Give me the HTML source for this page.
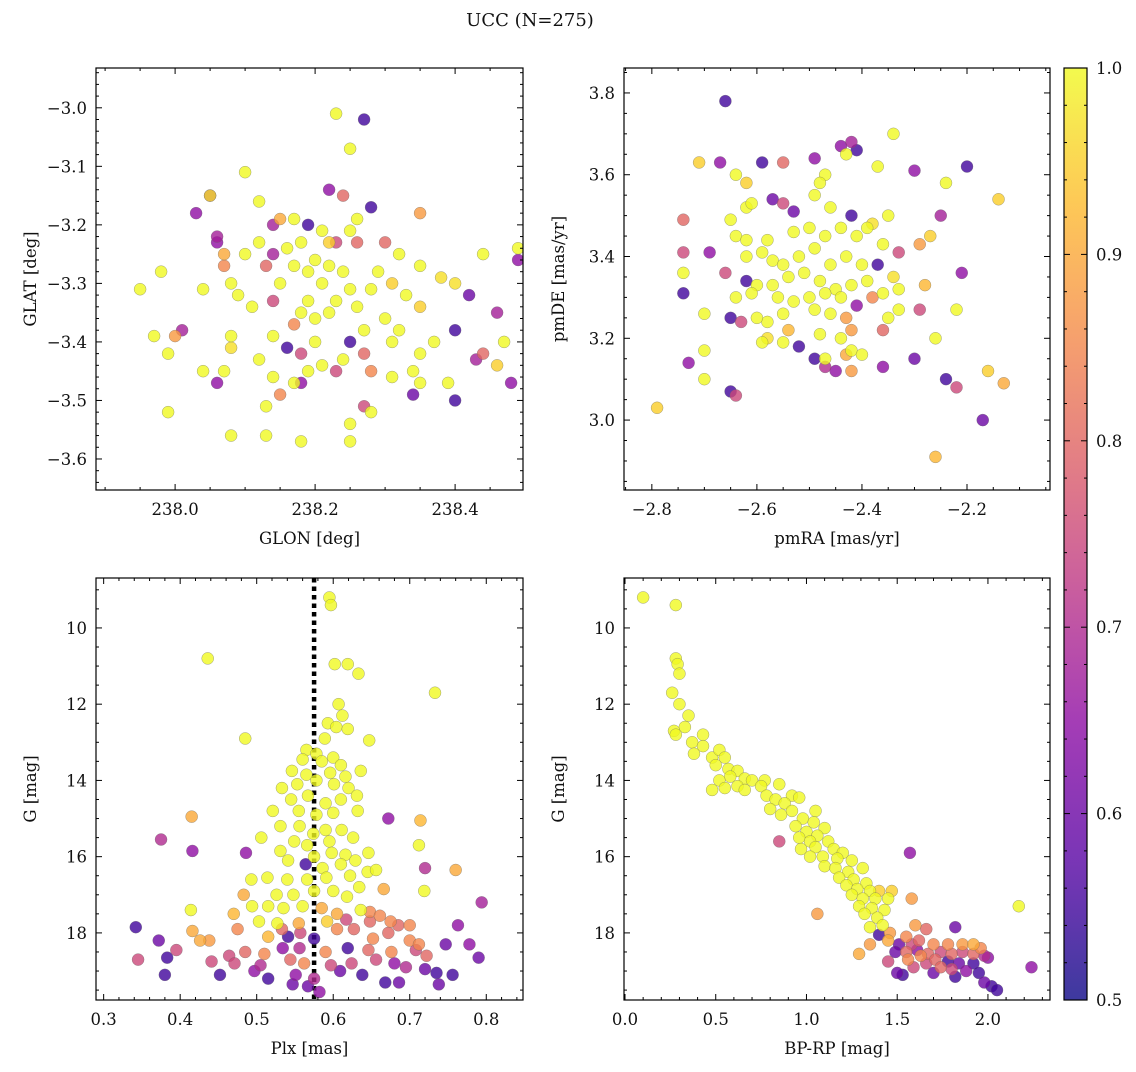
<!DOCTYPE html>
<html><head><meta charset="utf-8"><style>
body{margin:0;background:#fff}
svg text{font-family:"DejaVu Serif","Liberation Serif",serif;fill:#111}
</style></head><body>
<svg id="fig" width="1136" height="1067" viewBox="0 0 1136 1067" xmlns="http://www.w3.org/2000/svg">
<text x="530" y="26" font-size="18" text-anchor="middle">UCC (N=275)</text>
</svg>
<script>
// ---- data: top-left (GLON, GLAT, prob)
const tlLon=[238.23,238.27,238.25,238.10,238.05,238.05,238.03,238.22,238.24,238.28,238.12,238.35,238.14,238.15,238.19,238.17,238.26,238.21,238.25,238.22,238.06,238.06,238.07,238.07,238.12,238.10,238.16,238.18,238.14,238.13,238.23,238.26,238.30,238.32,238.44,238.49,238.49,238.35,238.38,238.40,238.42,237.98,237.95,238.04,238.08,238.09,238.11,238.14,238.15,238.17,238.19,238.20,238.21,238.22,238.24,238.25,238.23,238.19,238.18,238.20,238.17,238.22,238.26,238.28,238.29,238.31,238.33,238.35,238.30,238.27,238.25,238.32,238.40,238.37,238.44,238.47,238.43,238.46,238.08,238.08,238.01,237.97,237.99,238.00,238.14,238.16,238.20,238.18,238.21,238.24,238.23,238.19,238.17,238.18,238.15,238.14,238.12,238.07,238.04,238.06,238.28,238.31,238.34,238.34,238.35,238.40,238.48,238.46,238.39,238.27,238.28,238.13,238.13,238.08,238.18,238.25,238.25,237.99,238.31,238.27,238.35];
const tlLat=[-3.01,-3.02,-3.07,-3.11,-3.15,-3.15,-3.18,-3.14,-3.15,-3.17,-3.16,-3.18,-3.20,-3.19,-3.20,-3.19,-3.19,-3.21,-3.21,-3.23,-3.22,-3.23,-3.25,-3.27,-3.23,-3.25,-3.24,-3.23,-3.25,-3.27,-3.23,-3.23,-3.23,-3.25,-3.25,-3.24,-3.26,-3.27,-3.29,-3.30,-3.32,-3.28,-3.31,-3.31,-3.30,-3.32,-3.34,-3.33,-3.30,-3.27,-3.28,-3.26,-3.30,-3.27,-3.28,-3.31,-3.33,-3.33,-3.35,-3.36,-3.37,-3.35,-3.34,-3.31,-3.28,-3.30,-3.32,-3.34,-3.36,-3.38,-3.40,-3.38,-3.38,-3.40,-3.42,-3.40,-3.43,-3.35,-3.39,-3.41,-3.38,-3.39,-3.42,-3.39,-3.39,-3.41,-3.40,-3.42,-3.44,-3.43,-3.45,-3.45,-3.47,-3.47,-3.49,-3.46,-3.43,-3.45,-3.45,-3.47,-3.45,-3.46,-3.49,-3.45,-3.47,-3.50,-3.47,-3.44,-3.47,-3.51,-3.52,-3.51,-3.56,-3.56,-3.57,-3.57,-3.54,-3.52,-3.40,-3.42,-3.42];
const tlP=[1,0.55,1,1,0.97,0.65,0.65,0.65,0.8,0.55,1,0.88,0.68,0.9,0.55,1,1,1,1,0.95,0.68,0.65,0.9,0.85,1,1,1,1,0.68,0.8,0.75,0.8,0.8,1,1,1,0.65,1,0.97,0.97,0.6,1,1,1,1,1,1,0.75,1,1,1,1,1,1,1,1,1,1,1,1,0.85,1,1,1,1,0.95,1,0.95,1,1,0.55,1,0.55,1,0.8,1,0.68,0.68,1,0.97,0.68,1,1,0.88,1,0.55,1,0.75,1,1,0.75,1,1,0.65,0.85,1,1,1,1,0.65,0.85,1,0.6,1,1,0.55,0.65,0.95,1,0.75,1,1,1,1,1,1,1,1,1,0.8,1];
// ---- top-right (pmRA, pmDE, prob)
const trRA=[-2.66,-2.34,-2.42,-2.41,-2.44,-2.43,-2.49,-2.71,-2.67,-2.59,-2.55,-2.20,-2.30,-2.47,-2.48,-2.37,-2.64,-2.62,-2.24,-2.57,-2.14,-2.49,-2.62,-2.61,-2.55,-2.53,-2.74,-2.65,-2.46,-2.42,-2.38,-2.35,-2.25,-2.29,-2.27,-2.64,-2.62,-2.58,-2.53,-2.50,-2.47,-2.44,-2.41,-2.39,-2.36,-2.33,-2.74,-2.69,-2.74,-2.62,-2.59,-2.57,-2.55,-2.52,-2.49,-2.46,-2.43,-2.40,-2.37,-2.34,-2.28,-2.21,-2.66,-2.62,-2.74,-2.60,-2.57,-2.54,-2.51,-2.48,-2.45,-2.42,-2.39,-2.36,-2.33,-2.38,-2.64,-2.61,-2.56,-2.53,-2.50,-2.47,-2.44,-2.41,-2.49,-2.46,-2.43,-2.35,-2.33,-2.29,-2.22,-2.55,-2.58,-2.60,-2.63,-2.65,-2.70,-2.54,-2.58,-2.55,-2.48,-2.44,-2.42,-2.36,-2.26,-2.70,-2.59,-2.52,-2.49,-2.47,-2.45,-2.42,-2.40,-2.43,-2.30,-2.47,-2.42,-2.36,-2.16,-2.73,-2.70,-2.24,-2.22,-2.13,-2.65,-2.64,-2.79,-2.17,-2.26];
const trDE=[3.78,3.70,3.68,3.66,3.67,3.65,3.64,3.63,3.63,3.63,3.63,3.62,3.61,3.60,3.58,3.62,3.60,3.58,3.58,3.54,3.54,3.55,3.52,3.53,3.53,3.51,3.49,3.49,3.52,3.50,3.48,3.50,3.50,3.43,3.45,3.45,3.44,3.44,3.46,3.47,3.45,3.47,3.45,3.47,3.43,3.41,3.41,3.41,3.36,3.40,3.41,3.39,3.38,3.40,3.42,3.38,3.40,3.38,3.38,3.35,3.33,3.36,3.36,3.34,3.31,3.33,3.33,3.35,3.36,3.34,3.32,3.33,3.34,3.31,3.32,3.30,3.30,3.31,3.30,3.29,3.30,3.31,3.30,3.28,3.27,3.26,3.25,3.25,3.27,3.27,3.27,3.26,3.24,3.25,3.24,3.25,3.26,3.22,3.20,3.19,3.21,3.20,3.22,3.22,3.20,3.17,3.19,3.18,3.15,3.13,3.12,3.17,3.16,3.16,3.15,3.15,3.12,3.13,3.12,3.14,3.10,3.10,3.08,3.09,3.07,3.06,3.03,3.00,2.91];
const trP=[0.55,1,0.68,0.55,0.65,1,0.65,0.95,0.65,0.55,0.8,0.55,0.65,1,1,1,1,0.95,1,0.6,0.95,1,1,1,0.75,0.6,0.8,1,1,0.55,0.97,1,0.68,0.88,0.95,1,1,1,1,1,1,1,1,1,1,0.75,0.75,0.65,1,1,1,1,1,1,1,1,1,1,0.55,0.97,0.92,0.65,0.75,0.55,0.55,1,1,1,1,1,1,1,1,1,1,0.85,1,1,1,1,1,1,1,0.65,1,1,0.88,1,1,0.75,1,1,1,1,0.75,0.55,1,0.92,0.97,1,1,1,0.88,0.8,1,1,1,0.55,0.55,0.7,0.65,1,1,0.9,0.6,1,0.88,0.65,0.95,0.65,1,0.55,0.75,0.9,0.55,0.75,0.95,0.6,0.92];
// ---- bottom-left (Plx, G, prob)
const blPlx=[0.595,0.597,0.436,0.602,0.619,0.633,0.733,0.607,0.612,0.593,0.604,0.619,0.485,0.647,0.589,0.565,0.578,0.600,0.560,0.585,0.610,0.546,0.565,0.596,0.616,0.636,0.553,0.578,0.601,0.620,0.533,0.545,0.567,0.590,0.610,0.631,0.521,0.555,0.578,0.600,0.632,0.415,0.714,0.531,0.556,0.574,0.590,0.611,0.506,0.549,0.566,0.595,0.626,0.375,0.416,0.486,0.531,0.575,0.598,0.616,0.646,0.672,0.712,0.541,0.564,0.586,0.610,0.629,0.720,0.760,0.645,0.656,0.493,0.514,0.540,0.566,0.591,0.622,0.634,0.666,0.483,0.526,0.548,0.575,0.600,0.618,0.719,0.414,0.470,0.494,0.515,0.535,0.560,0.585,0.605,0.636,0.648,0.794,0.503,0.527,0.555,0.592,0.617,0.648,0.661,0.675,0.685,0.700,0.763,0.342,0.416,0.475,0.533,0.605,0.627,0.672,0.575,0.372,0.426,0.438,0.515,0.541,0.557,0.652,0.700,0.712,0.747,0.778,0.395,0.383,0.345,0.441,0.464,0.485,0.510,0.534,0.556,0.590,0.619,0.646,0.676,0.708,0.722,0.471,0.505,0.544,0.562,0.597,0.624,0.656,0.680,0.695,0.720,0.380,0.452,0.497,0.515,0.551,0.575,0.609,0.638,0.686,0.735,0.756,0.738,0.668,0.567,0.547,0.582,0.790];
const blG=[9.2,9.4,10.8,10.95,10.95,11.2,11.7,12.0,12.3,12.5,12.6,12.65,12.9,12.95,12.9,13.2,13.3,13.4,13.45,13.5,13.6,13.75,13.85,13.8,13.9,13.75,14.1,14.0,14.1,14.2,14.2,14.5,14.4,14.6,14.5,14.4,14.8,14.8,14.9,14.85,14.8,14.95,15.05,15.2,15.2,15.4,15.3,15.3,15.5,15.6,15.7,15.6,15.5,15.55,15.85,15.9,15.85,16.0,15.9,15.95,15.9,15.0,15.7,16.1,16.2,16.3,16.2,16.1,16.3,16.35,16.4,16.35,16.6,16.55,16.6,16.6,16.55,16.5,16.8,16.85,17.0,17.0,17.0,16.9,16.9,17.05,16.9,17.4,17.5,17.3,17.3,17.35,17.3,17.35,17.5,17.4,17.45,17.2,17.7,17.75,17.75,17.7,17.65,17.7,17.55,17.7,17.8,17.8,17.8,17.85,17.95,17.9,17.9,17.9,17.9,18.0,18.15,18.2,18.2,18.2,18.1,18.1,18.0,18.15,18.2,18.3,18.3,18.3,18.45,18.65,18.7,18.75,18.6,18.5,18.55,18.4,18.4,18.5,18.4,18.45,18.5,18.45,18.6,18.8,18.85,18.7,18.8,18.85,18.8,18.7,18.8,18.9,18.95,19.1,19.1,19.0,19.2,19.1,19.2,19.0,19.1,19.3,19.05,19.1,19.35,19.3,19.4,19.35,19.55,18.65];
const blP=[1,1,1,1,1,1,1,1,1,1,1,1,1,1,1,1,1,1,1,1,1,1,1,1,1,1,1,1,1,1,1,1,1,1,1,1,1,1,1,1,1,0.9,0.92,1,1,1,1,1,1,1,1,1,1,0.7,0.65,0.65,1,1,1,1,1,0.65,1,1,0.55,1,1,1,0.7,0.9,1,1,1,1,1,1,1,1,1,0.9,0.9,1,1,1,1,1,1,1,0.92,1,1,1,1,0.9,0.9,1,0.85,0.68,1,1,0.9,0.95,0.75,0.8,0.85,0.85,0.8,0.85,0.65,0.55,0.9,0.85,0.8,0.85,0.8,0.8,0.55,0.6,0.9,0.88,0.92,0.55,0.75,0.85,0.85,0.85,0.6,0.65,0.75,0.55,0.75,0.75,0.75,0.8,0.85,0.65,0.7,0.85,0.55,0.8,0.85,0.75,0.8,0.75,0.7,0.8,0.85,0.75,0.75,0.75,0.65,0.7,0.6,0.55,0.55,0.65,0.55,0.65,0.7,0.6,0.55,0.6,0.55,0.55,0.6,0.55,0.6,0.6,0.65,0.6];
// ---- bottom-right (BP-RP, G, prob)
const brC=[0.10,0.28,0.28,0.29,0.30,0.26,0.30,0.35,0.33,0.27,0.28,0.43,0.37,0.43,0.38,0.48,0.52,0.55,0.50,0.57,0.62,0.58,0.66,0.70,0.77,0.52,0.55,0.48,0.62,0.66,0.75,0.85,0.92,0.96,0.78,0.83,0.88,0.80,1.05,0.92,0.86,0.98,1.04,0.94,1.00,1.10,1.06,0.96,1.02,1.12,0.85,0.97,1.05,1.15,1.20,1.02,1.09,1.17,1.25,1.57,1.10,1.16,1.23,1.31,1.18,1.26,1.33,1.22,1.28,1.35,1.40,1.47,1.25,1.31,1.38,1.45,1.29,1.36,1.43,1.32,1.39,1.58,1.06,2.17,1.42,1.35,1.60,1.66,1.82,1.40,1.46,1.55,1.62,1.51,1.58,1.70,1.78,1.86,1.92,1.96,1.49,1.55,1.61,1.67,1.74,1.80,1.86,1.92,1.98,1.56,1.63,1.71,1.78,1.84,1.92,2.00,1.45,1.59,1.66,1.74,1.80,1.88,1.95,2.24,1.53,1.50,1.70,1.82,1.98,2.02,2.05,1.29,1.35,1.45];
const brG=[9.2,9.4,10.8,10.95,11.2,11.7,12.0,12.3,12.6,12.7,12.8,12.8,13.0,13.1,13.3,13.4,13.2,13.4,13.6,13.7,13.75,13.9,13.95,14.0,14.0,14.0,14.2,14.25,14.15,14.25,14.15,14.1,14.4,14.45,14.4,14.5,14.6,14.75,14.8,14.8,14.9,15.0,15.1,15.2,15.35,15.25,15.45,15.5,15.6,15.6,15.6,15.8,15.75,15.8,15.9,16.0,16.0,16.05,16.1,15.9,16.25,16.3,16.4,16.3,16.55,16.6,16.7,16.75,16.85,16.9,16.9,16.9,17.0,17.1,17.1,17.1,17.3,17.35,17.4,17.5,17.6,17.1,17.5,17.3,17.8,17.85,17.8,17.9,17.85,18.05,18.0,18.1,18.2,18.3,18.3,18.3,18.3,18.3,18.3,18.4,18.5,18.5,18.45,18.55,18.5,18.55,18.5,18.55,18.6,18.7,18.6,18.7,18.75,18.8,18.8,18.65,18.75,18.9,18.8,18.9,18.95,19.0,19.05,18.9,19.1,19.05,19.05,19.15,19.3,19.4,19.5,18.55,18.3,18.2];
const brP=[1,1,1,1,1,1,1,1,1,1,1,1,1,1,1,1,1,1,1,1,1,1,1,1,1,1,1,1,1,1,1,1,1,1,1,1,1,1,1,1,1,1,1,1,1,1,1,1,1,1,0.75,1,1,1,1,1,1,1,1,0.65,1,1,1,1,1,1,1,1,1,1,0.95,0.95,1,1,1,1,1,1,1,1,1,0.88,0.88,1,1,1,0.88,0.8,0.6,0.55,0.88,0.85,0.8,0.6,0.75,0.85,0.85,0.88,0.9,0.85,0.6,0.8,0.65,0.8,0.75,0.8,0.75,0.8,0.7,0.85,0.85,0.8,0.55,0.6,0.55,0.65,0.75,0.75,0.75,0.8,0.75,0.65,0.55,0.65,0.55,0.6,0.6,0.55,0.6,0.55,0.55,0.9,0.88,0.9];
// colorbar ticks
const cbTicks=[0.5,0.6,0.7,0.8,0.9,1.0];

const NS="http://www.w3.org/2000/svg";
const svg=document.getElementById('fig');
function mk(tag,attrs,parent){const e=document.createElementNS(NS,tag);for(const k in attrs)e.setAttribute(k,attrs[k]);(parent||svg).appendChild(e);return e;}
const pl=[[0,[13,8,135]],[0.14,[84,2,163]],[0.29,[139,10,165]],[0.43,[185,50,137]],[0.57,[219,92,104]],[0.71,[244,136,73]],[0.86,[254,188,43]],[1,[240,249,33]]];
function cmap(p){let t=Math.max(0,Math.min(1,(p-0.5)/0.5));for(let i=0;i<pl.length-1;i++){if(t<=pl[i+1][0]){const a=pl[i],b=pl[i+1],f=(t-a[0])/(b[0]-a[0]);return 'rgb('+a[1].map((v,j)=>Math.round(v+(b[1][j]-v)*f)).join(',')+')';}}return 'rgb(240,249,33)';}
function fmt(v,d){return (v<0?'\u2212':'')+Math.abs(v).toFixed(d);}
function panel(name,x0,x1,y0,y1,xd,yd,xmaj,xmin,ymaj,ymin,xdec,ydec,xlab,ylab,xs,ys,ps,inv){
  const g=mk('g',{});
  
  
  const X=v=>x0+(v-xd[0])/(xd[1]-xd[0])*(x1-x0);
  const Y=inv?(v=>y0+(v-yd[0])/(yd[1]-yd[0])*(y1-y0)):(v=>y1-(v-yd[0])/(yd[1]-yd[0])*(y1-y0));
  const clip='c'+name;const cp=mk('clipPath',{id:clip},g);mk('rect',{x:x0,y:y0,width:x1-x0,height:y1-y0},cp);
  const pg=mk('g',{'clip-path':'url(#'+clip+')'},g);
  if(name==='plx-panel'){const l=mk('line',{x1:X(0.575),x2:X(0.575),y1:y0,y2:y1,stroke:'#000','stroke-width':4.5,'stroke-dasharray':'4.5,4'},pg);
    
    }
  const idx=ps.map((p,i)=>i).sort((a,b)=>ps[a]-ps[b]);
  idx.forEach(i=>{const c=mk('circle',{cx:X(xs[i]),cy:Y(ys[i]),r:6,fill:cmap(ps[i]),'fill-opacity':0.8,stroke:'#666','stroke-opacity':0.6,'stroke-width':0.5},pg);
    
    });
  mk('rect',{x:x0,y:y0,width:x1-x0,height:y1-y0,fill:'none',stroke:'#000','stroke-width':1.2},g);
  const ax=mk('g',{},g);
  
  
  const eps=1e-9;
  for(let v=Math.ceil(xd[0]/xmin-eps)*xmin;v<=xd[1]+eps;v+=xmin){const px=X(v);const major=Math.abs(v/xmaj-Math.round(v/xmaj))<1e-6;const L=major?6:3;
    mk('line',{x1:px,x2:px,y1:y1,y2:y1-L,stroke:'#000'},ax);mk('line',{x1:px,x2:px,y1:y0,y2:y0+L,stroke:'#000'},ax);
    if(major){const t=mk('text',{x:px,y:y1+25,'font-size':16.5,'text-anchor':'middle'},ax);t.textContent=fmt(Math.round(v/xmaj)*xmaj,xdec);}}
  for(let v=Math.ceil(yd[0]/ymin-eps)*ymin;v<=yd[1]+eps;v+=ymin){const py=Y(v);const major=Math.abs(v/ymaj-Math.round(v/ymaj))<1e-6;const L=major?6:3;
    mk('line',{x1:x0,x2:x0+L,y1:py,y2:py,stroke:'#000'},ax);mk('line',{x1:x1,x2:x1-L,y1:py,y2:py,stroke:'#000'},ax);
    if(major){const t=mk('text',{x:x0-9,y:py+6,'font-size':16.5,'text-anchor':'end'},ax);t.textContent=fmt(Math.round(v/ymaj)*ymaj,ydec);}}
  const xl=mk('text',{x:(x0+x1)/2,y:y1+54,'font-size':16.5,'text-anchor':'middle'},g);xl.textContent=xlab;
  
  
  const yl=mk('text',{x:0,y:0,'font-size':16.5,'text-anchor':'middle',transform:'translate('+(x0-60)+','+((y0+y1)/2)+') rotate(-90)'},g);yl.textContent=ylab;
  
  
}
panel('position-panel',96,523,68,490,[237.887,238.497],[-3.653,-2.932],0.2,0.05,0.1,0.02,1,1,'GLON [deg]','GLAT [deg]',tlLon,tlLat,tlP,false);
panel('pm-panel',624,1050,68,490,[-2.853,-2.042],[2.829,3.861],0.2,0.05,0.2,0.05,1,1,'pmRA [mas/yr]','pmDE [mas/yr]',trRA,trDE,trP,false);
panel('plx-panel',96,523,578,1000,[0.290,0.848],[8.69,19.76],0.1,0.02,2,0.5,1,0,'Plx [mas]','G [mag]',blPlx,blG,blP,true);
panel('cmd-panel',624,1050,578,1000,[-0.0055,2.342],[8.69,19.76],0.5,0.1,2,0.5,1,0,'BP-RP [mag]','G [mag]',brC,brG,brP,true);
// colorbar
const cb=mk('g',{});


const defs=mk('defs',{},cb);const lg=mk('linearGradient',{id:'cbg',x1:0,y1:1,x2:0,y2:0},defs);
for(let i=0;i<=20;i++){const p=0.5+i*0.025;mk('stop',{offset:(i/20),'stop-color':cmap(p),'stop-opacity':0.8},lg);}
mk('rect',{x:1064,y:68,width:23,height:932,fill:'url(#cbg)',stroke:'#000','stroke-width':1.2},cb);
const CY=v=>1000-(v-0.5)/0.5*932;
for(let v=0.5;v<=1.0001;v+=0.02){const major=Math.abs(v*10-Math.round(v*10))<1e-6;mk('line',{x1:1087,x2:1087-(major?6:3),y1:CY(v),y2:CY(v),stroke:'#000'},cb);mk('line',{x1:1064,x2:1064+(major?6:3),y1:CY(v),y2:CY(v),stroke:'#000'},cb);}
cbTicks.forEach(v=>{const t=mk('text',{x:1096,y:CY(v)+6,'font-size':16.5},cb);t.textContent=v.toFixed(1);
  
  });
</script>
</body></html>
